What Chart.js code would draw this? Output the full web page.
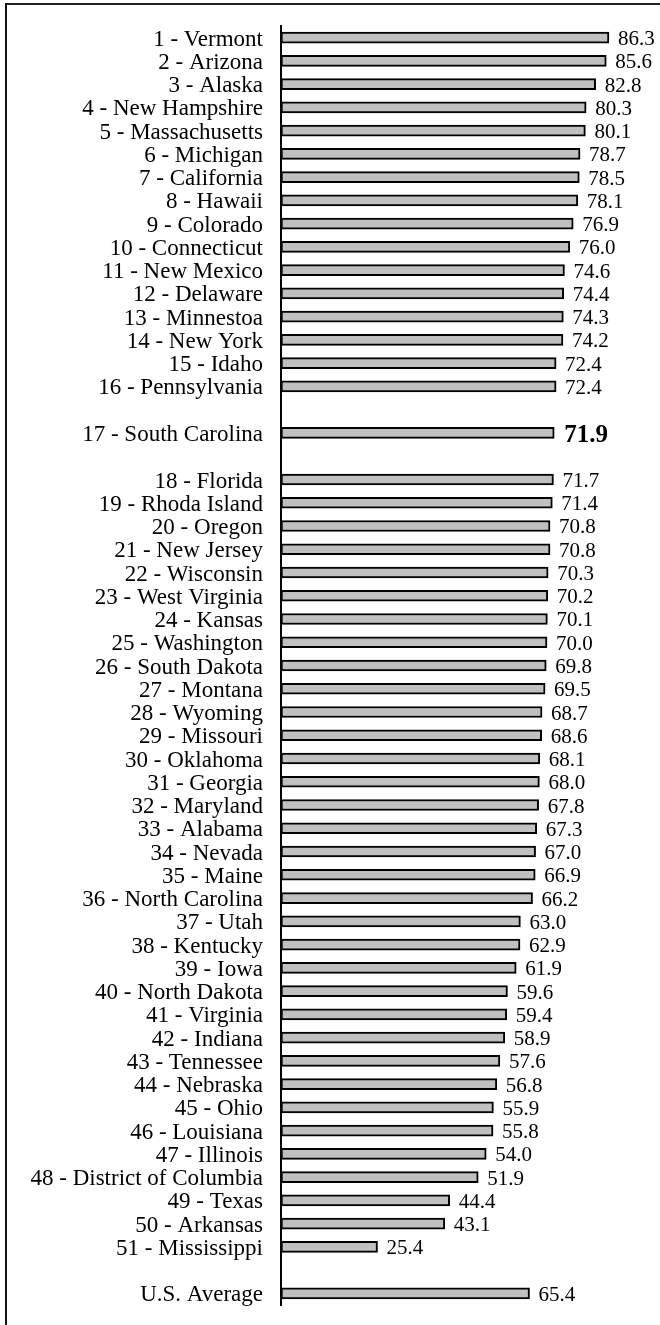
<!DOCTYPE html>
<html>
<head>
<meta charset="utf-8">
<script src="https://cdn.jsdelivr.net/npm/chart.js@4/dist/chart.umd.min.js"></script>
<style>
  body { margin: 0; background: #fff; }
  #wrap { position: relative; width: 660px; height: 1325px; }
  #frame { position: absolute; left: 5px; top: 3px; right: 0; bottom: 0;
           border-top: 2px solid #222; border-left: 2px solid #111; }
  canvas { position: absolute; left: 0; top: 0; }
</style>
</head>
<body>
<div id="wrap">
  <div id="frame"></div>
  <canvas id="rankChart" width="660" height="1325"></canvas>
</div>
<script>
// Ranked states (blank strings are spacer rows)
const states = [
  "1 - Vermont", "2 - Arizona", "3 - Alaska", "4 - New Hampshire",
  "5 - Massachusetts", "6 - Michigan", "7 - California", "8 - Hawaii",
  "9 - Colorado", "10 - Connecticut", "11 - New Mexico", "12 - Delaware",
  "13 - Minnestoa", "14 - New York", "15 - Idaho", "16 - Pennsylvania",
  "",
  "17 - South Carolina",
  "",
  "18 - Florida", "19 - Rhoda Island", "20 - Oregon", "21 - New Jersey",
  "22 - Wisconsin", "23 - West Virginia", "24 - Kansas", "25 - Washington",
  "26 - South Dakota", "27 - Montana", "28 - Wyoming", "29 - Missouri",
  "30 - Oklahoma", "31 - Georgia", "32 - Maryland", "33 - Alabama",
  "34 - Nevada", "35 - Maine", "36 - North Carolina", "37 - Utah",
  "38 - Kentucky", "39 - Iowa", "40 - North Dakota", "41 - Virginia",
  "42 - Indiana", "43 - Tennessee", "44 - Nebraska", "45 - Ohio",
  "46 - Louisiana", "47 - Illinois", "48 - District of Columbia",
  "49 - Texas", "50 - Arkansas", "51 - Mississippi",
  "",
  "U.S. Average"
];

const values = [
  86.3, 85.6, 82.8, 80.3,
  80.1, 78.7, 78.5, 78.1,
  76.9, 76.0, 74.6, 74.4,
  74.3, 74.2, 72.4, 72.4,
  null,
  71.9,
  null,
  71.7, 71.4, 70.8, 70.8,
  70.3, 70.2, 70.1, 70.0,
  69.8, 69.5, 68.7, 68.6,
  68.1, 68.0, 67.8, 67.3,
  67.0, 66.9, 66.2, 63.0,
  62.9, 61.9, 59.6, 59.4,
  58.9, 57.6, 56.8, 55.9,
  55.8, 54.0, 51.9,
  44.4, 43.1, 25.4,
  null,
  65.4
];

const highlighted = "17 - South Carolina";
const serif = "'Liberation Serif', 'Times New Roman', serif";

// Value labels at the end of each bar
const valueLabels = {
  id: "valueLabels",
  afterDatasetsDraw(chart) {
    const ctx = chart.ctx;
    const meta = chart.getDatasetMeta(0);
    ctx.save();
    ctx.fillStyle = "#000";
    ctx.textAlign = "left";
    ctx.textBaseline = "alphabetic";
    meta.data.forEach((bar, i) => {
      const v = values[i];
      if (v === null) return;
      const bold = states[i] === highlighted;
      ctx.font = bold ? "bold 25px " + serif : "21px " + serif;
      ctx.fillText(v.toFixed(1), bar.x + (bold ? 10 : 9), bar.y + (bold ? 9 : 7.5));
    });
    ctx.restore();
  }
};

const ctx = document.getElementById("rankChart").getContext("2d");
new Chart(ctx, {
  type: "bar",
  data: {
    labels: states,
    datasets: [{
      data: values,
      backgroundColor: "#c0c0c0",
      borderColor: "#000",
      borderWidth: 2,
      borderSkipped: false,
      barThickness: 11
    }]
  },
  options: {
    indexAxis: "y",
    responsive: false,
    animation: false,
    layout: { padding: { top: 26, bottom: 20, left: 0, right: 18 } },
    plugins: { legend: { display: false }, tooltip: { enabled: false } },
    scales: {
      x: { display: false, min: 0, max: 95 },
      y: {
        afterFit: (scale) => {
          scale.width = 281;
          scale.paddingTop = 0;
          scale.paddingBottom = 0;
        },
        grid: { display: false, drawTicks: false },
        border: { display: true, color: "#000", width: 2 },
        ticks: {
          autoSkip: false,
          padding: 18,
          color: "#000",
          font: { family: serif, size: 23 },
          labelOffset: 2
        }
      }
    }
  },
  plugins: [valueLabels]
});
</script>
</body>
</html>
